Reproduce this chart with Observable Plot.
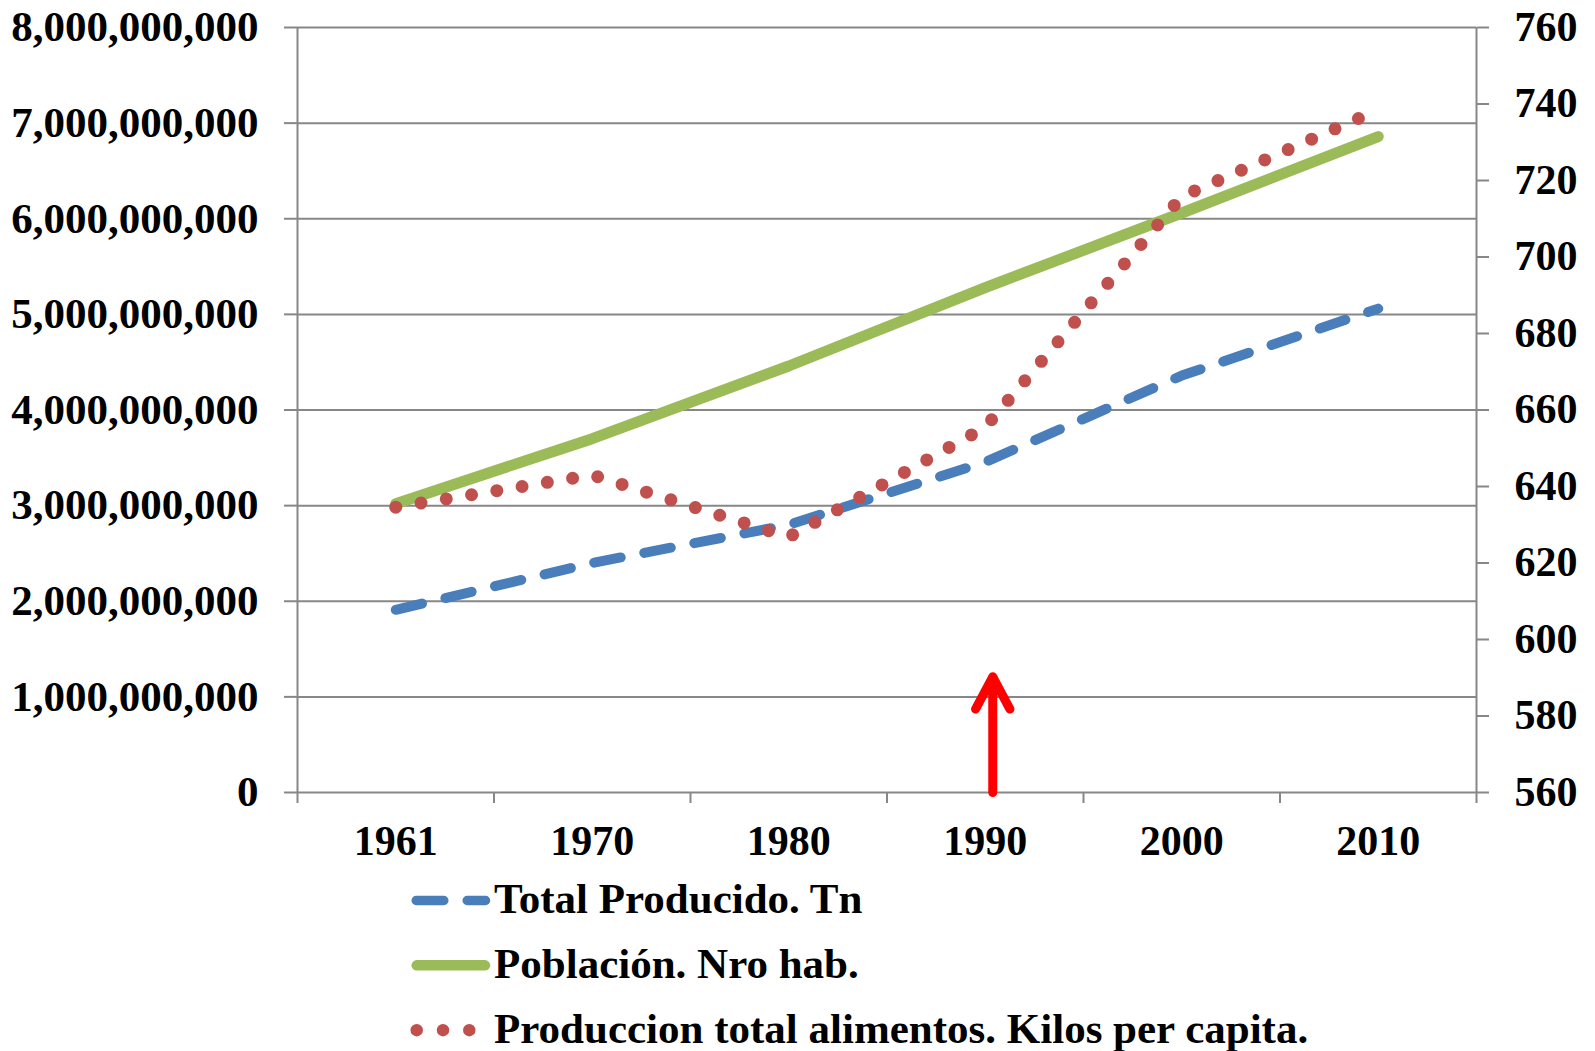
<!DOCTYPE html>
<html>
<head>
<meta charset="utf-8">
<script src="https://cdn.jsdelivr.net/npm/d3@7"></script>
<script src="https://cdn.jsdelivr.net/npm/@observablehq/plot@0.6"></script>
<style>
  html, body { margin: 0; padding: 0; background: #ffffff; overflow: hidden; }
  #chart { width: 1595px; height: 1051px; position: relative; overflow: hidden; background: #ffffff; }
  #chart svg { display: block; max-width: none; }
</style>
</head>
<body>
<div id="chart"></div>
<script>
// ---------- data ----------
const years = ["1961", "1970", "1980", "1990", "2000", "2010"];
const totalProducido = [1.91e9, 2.40e9, 2.80e9, 3.455e9, 4.36e9, 5.06e9];   // left axis (Tn)
const poblacion = [3.02e9, 3.70e9, 4.46e9, 5.28e9, 6.06e9, 6.86e9];          // left axis (hab.)
const kilosPerCapita = [634.6, 643.0, 626.8, 655.5, 715.8, 738.5];           // right axis (kg)
const seriesNames = [
  "Total Producido. Tn",
  "Población. Nro hab.",
  "Produccion total alimentos. Kilos per capita."
];
const leftTicks = d3.range(0, 8e9 + 1, 1e9);
const rightTicks = d3.range(560, 761, 20);
const arrowMarker = [{year: "1990", from: 0, to: 1.21e9}];

// ---------- styles ----------
const FONT = "'Liberation Serif', 'Times New Roman', Times, serif";
const GRAY = "#878787";
const BLUE = "#4a7ebb";
const GREEN = "#9bbb59";
const RED = "#c0504d";

// right axis (560–760) mapped onto left axis domain (0–8e9)
const rightDomain = [560, 760];
const leftDomain = [0, 8e9];
const toLeft = v => (v - rightDomain[0]) / (rightDomain[1] - rightDomain[0]) * (leftDomain[1] - leftDomain[0]);
const fromLeft = v => rightDomain[0] + v / (leftDomain[1] - leftDomain[0]) * (rightDomain[1] - rightDomain[0]);

const blueData = years.map((y, i) => ({i, v: totalProducido[i]}));
const greenData = years.map((y, i) => ({i, v: poblacion[i]}));
const redData = years.map((y, i) => ({i, v: toLeft(kilosPerCapita[i])}));

const textOpts = {fill: "black", fontSize: 42, fontWeight: "bold", fontFamily: FONT, label: null};

const plot = Plot.plot({
  width: 1595,
  height: 870,
  marginLeft: 297,
  marginRight: 119,
  marginTop: 27,
  marginBottom: 78,
  x: {type: "linear", domain: [-0.5, years.length - 0.5], axis: null},
  y: {type: "linear", domain: leftDomain, axis: null},
  style: {fontFamily: FONT, fontWeight: "bold", fontSize: "42px", color: "black", background: "white", overflow: "visible"},
  marks: [
    Plot.gridY(leftTicks, {stroke: GRAY, strokeOpacity: 1, strokeWidth: 2}),
    Plot.ruleX([-0.5, years.length - 0.5], {stroke: GRAY, strokeWidth: 2}),
    Plot.axisX(d3.range(-0.5, years.length, 1), {
      anchor: "bottom", tickSize: 11, tickFormat: () => "", stroke: GRAY, strokeWidth: 2, ...textOpts
    }),
    Plot.axisX(d3.range(years.length), {
      anchor: "bottom", tickSize: 0, tickPadding: 33, tickFormat: i => years[i], ...textOpts
    }),
    Plot.axisY(leftTicks, {
      anchor: "left", tickSize: 13, tickPadding: 26, tickFormat: d3.format(","),
      stroke: GRAY, strokeWidth: 2, ...textOpts, fontSize: 43
    }),
    Plot.axisY(rightTicks.map(toLeft), {
      anchor: "right", tickSize: 12, tickPadding: 26, tickFormat: d => String(Math.round(fromLeft(d))),
      stroke: GRAY, strokeWidth: 2, ...textOpts
    }),
    Plot.line(blueData, {x: "i", y: "v", stroke: BLUE, strokeWidth: 10, strokeDasharray: "27 24", strokeLinecap: "round"}),
    Plot.line(greenData, {x: "i", y: "v", stroke: GREEN, strokeWidth: 11, strokeLinecap: "round"}),
    Plot.line(redData, {x: "i", y: "v", stroke: RED, strokeWidth: 13, strokeDasharray: "0 25.6", strokeLinecap: "round"}),
    Plot.arrow(arrowMarker, {
      x1: d => years.indexOf(d.year), x2: d => years.indexOf(d.year),
      y1: "from", y2: "to",
      stroke: "#ff0000", strokeWidth: 9, headLength: 6.1, headAngle: 56, dx: 7.5
    })
  ]
});

const chart = document.getElementById("chart");
chart.appendChild(plot);

// ---------- legend (below the plot) ----------
const legendStyles = [
  {color: BLUE, width: 9.5, dash: "27.6 23.4", x1: 416.2, x2: 485.5},
  {color: GREEN, width: 10.5, dash: null, x1: 416.7, x2: 485},
  {color: RED, width: 12.5, dash: "0 26.3", x1: 416.7, x2: 470}
];
const legend = d3.create("svg")
  .attr("width", 1595)
  .attr("height", 181)
  .style("display", "block")
  .style("font-family", FONT)
  .style("font-weight", "bold")
  .style("font-size", "43px");

seriesNames.forEach((name, k) => {
  const st = legendStyles[k];
  const base = 43 + 64.85 * k;
  const ly = base - 12.5;
  const ln = legend.append("line")
    .attr("x1", st.x1).attr("x2", st.x2)
    .attr("y1", ly).attr("y2", ly)
    .attr("stroke", st.color)
    .attr("stroke-width", st.width)
    .attr("stroke-linecap", "round");
  if (st.dash) ln.attr("stroke-dasharray", st.dash);
  legend.append("text")
    .attr("x", 494)
    .attr("y", base)
    .attr("fill", "black")
    .text(name);
});
chart.appendChild(legend.node());
</script>
</body>
</html>
